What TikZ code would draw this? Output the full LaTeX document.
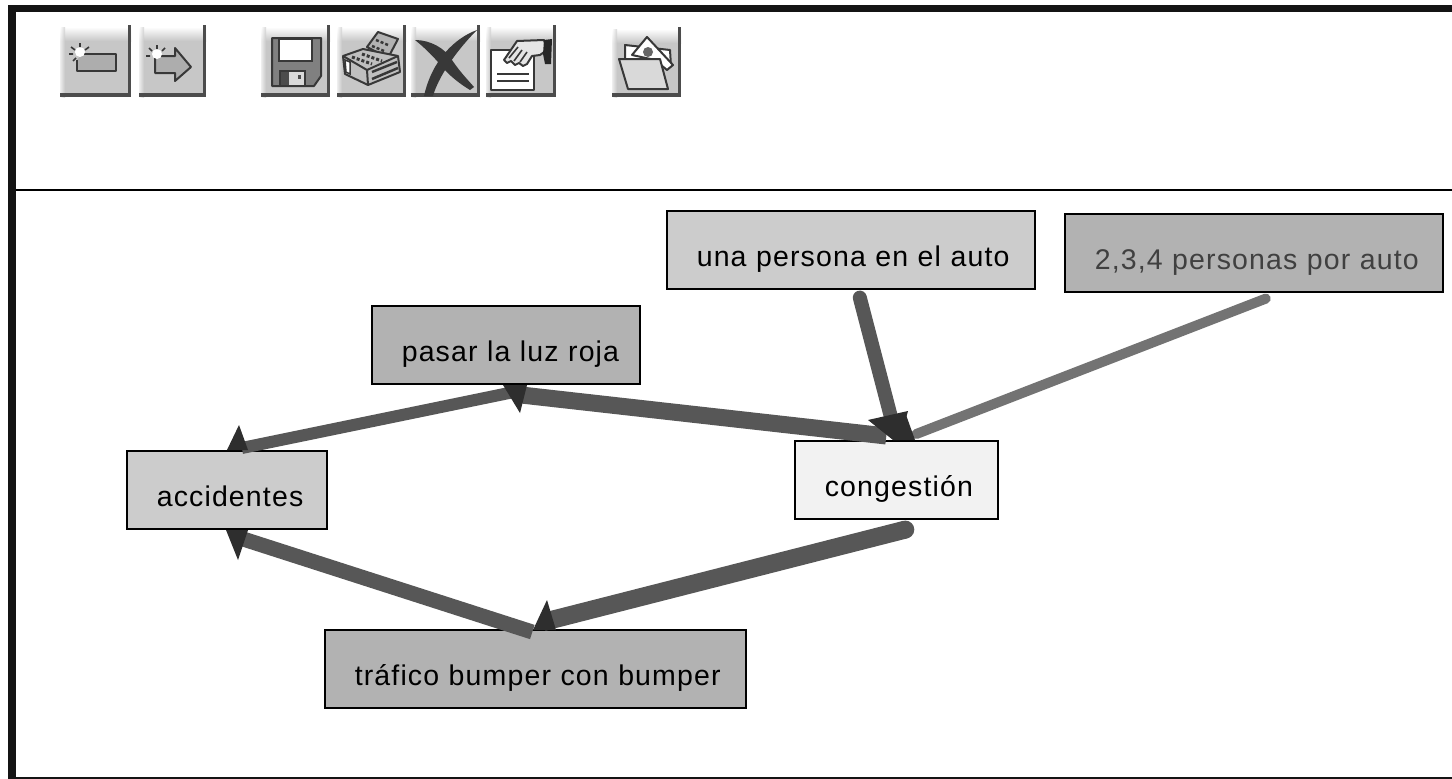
\documentclass[tikz,border=0pt]{standalone}
\usepackage{fontspec}
\setmainfont{Liberation Sans}
\newfontfamily\uifont[LetterSpace=4]{Liberation Sans}
\tikzset{
  concept/.style={draw=black,line width=1.6pt,anchor=north west,inner sep=0pt,minimum height=78pt,
    text width=#1,align=left,text height=42pt,text depth=8pt,font=\uifont\fontsize{28.5}{30}\selectfont,
    execute at begin node=\hspace*{30pt}},
  link/.style={line cap=round,line width=12pt,draw=black!66},
  head/.style={fill=black!82},
  btn/.style={fill=black!22},
  iconline/.style={draw=black!78,line width=2pt,line join=round}
}
% boton: esquina superior izquierda, esquina inferior derecha
\newcommand{\boton}[4]{%
  \fill[btn] (#1,#2) rectangle (#3,#4);
  \shade[top color=white,bottom color=black!22] (#1,#2) rectangle (#3,#2+14);
  \shade[left color=white,right color=black!22,opacity=.7] (#1,#2) rectangle (#1+5,#4);
  \fill[black!70] (#3-3,#2-2) rectangle (#3,#4);
  \fill[black!70] (#1,#4-4) rectangle (#3,#4);
}
\begin{document}
\begin{tikzpicture}[x=1pt,y=-1pt]
  \useasboundingbox (0,0) rectangle (1452,779);
  \fill[white] (0,0) rectangle (1452,779);
  %marco
  \fill[black!92] (8,5) rectangle (1452,12);
  \fill[black!92] (8,5) rectangle (16,779);
  \fill[black!92] (16,777) rectangle (1452,779);
  \draw[line width=2pt] (16,190) -- (1452,190);
  %botones
  \boton{60}{27}{131}{97}
  \boton{139}{27}{206}{97}
  \boton{261}{27}{330}{97}
  \boton{337}{27}{406}{97}
  \boton{411}{27}{480}{97}
  \boton{486}{27}{556}{97}
  \boton{612}{29}{681}{97}
  %icono nuevo concepto
  \draw[iconline,fill=black!32] (82,54) -- (116,54) -- (116,71) -- (77,71) -- (77,60);
  \fill[white] (80,52) circle (5);
  \draw[iconline,line width=1.6pt] (80,43) -- (80,47) (71,47) -- (75,50) (89,47) -- (85,50) (69,54) -- (73,54) (73,61) -- (76,58);
  %icono nueva flecha
  \draw[iconline,fill=black!32] (155,56) -- (175,56) -- (175,48) -- (191,67) -- (175,81) -- (175,73) -- (155,73) -- cycle;
  \fill[white] (157,54) circle (5);
  \draw[iconline,line width=1.6pt] (157,45) -- (157,49) (149,48) -- (152,51) (165,48) -- (162,51) (146,56) -- (150,56);
  %icono disco
  \draw[iconline,fill=black!50] (272,38) -- (321,38) -- (321,76) -- (314,86) -- (272,86) -- cycle;
  \fill[white,draw=black!78,line width=1.5pt] (279,39) rectangle (312,61);
  \fill[black!15,draw=black!78,line width=1.5pt] (280,71) rectangle (305,86);
  \fill[black!70] (281,72) rectangle (289,85);
  \fill[black!70] (298,75) rectangle (301,79);
  %icono impresora
  \draw[iconline,fill=black!30] (367,47) -- (378,32) -- (398,39) -- (388,58) -- cycle;
  \draw[iconline,line width=2.5pt,dash pattern=on 3pt off 2pt] (376,40) -- (388,45) (372,46) -- (384,51);
  \draw[iconline,fill=black!25] (343,56) -- (363,49) -- (398,56) -- (400,72) -- (368,85) -- (345,74) -- cycle;
  \draw[iconline] (343,56) -- (367,70) -- (398,56) (367,70) -- (368,85);
  \fill[white,draw=black!78,line width=1.5pt] (345,60) -- (350,62) -- (350,74) -- (346,72) -- cycle;
  \draw[iconline,line width=3pt,dash pattern=on 3pt off 2pt] (352,57) -- (372,64) (362,54) -- (382,61);
  \draw[iconline,line width=2.5pt] (372,72) -- (397,62) (372,79) -- (398,68);
  %icono borrar
  \fill[black!78] (415,40) .. controls (430,40) and (445,48) .. (452,60) .. controls (460,72) and (468,80) .. (474,87) -- (470,90) .. controls (460,84) and (450,76) .. (443,68) .. controls (435,58) and (425,48) .. (415,40) -- cycle;
  \fill[black!78] (477,30) .. controls (455,38) and (432,60) .. (424,96) -- (433,96) .. controls (438,78) and (455,52) .. (477,30) -- cycle;
  %icono mano
  \draw[iconline,fill=white] (491,50) rectangle (534,90);
  \draw[iconline,line width=2.5pt] (497,74) -- (529,74) (497,81) -- (529,81);
  \draw[iconline,fill=black!10] (504,60) -- (517,41) -- (544,40) -- (547,50) -- (540,55) -- (532,56) -- (527,64) -- (523,66) -- (519,63) -- (515,65) -- (511,61) -- (507,63) -- cycle;
  \draw[iconline,line width=1.6pt] (509,58) -- (518,47) (514,61) -- (522,50) (520,62) -- (527,52);
  \fill[black!85] (544,40) -- (552,39) -- (551,64) -- (545,64) -- (543,54) -- cycle;
  %icono carpeta
  \draw[iconline,fill=white] (625,45) -- (670,50) -- (671,66) -- (625,62) -- cycle;
  \draw[iconline,fill=white] (632,55) -- (647,37) -- (673,65) -- (667,70) -- (655,60) -- cycle;
  \fill[black!60] (648,52) circle (5);
  \draw[iconline,fill=black!15] (619,59) -- (660,59) -- (668,89) -- (628,89) -- cycle;
  %conceptos
  \node[concept=368pt,fill=black!20] (unapersona) at (666,210) {una persona en el auto};
  \node[concept=378pt,fill=black!30,text=black!75] (trespersonas) at (1064,213) {2,3,4 personas por auto};
  \node[concept=268pt,fill=black!30] (luzroja) at (371,305) {pasar la luz roja};
  \node[concept=200pt,fill=black!20] (accidentes) at (126,450) {accidentes};
  \node[concept=203pt,fill=black!5] (congestion) at (794,440) {congestión};
  \node[concept=421pt,fill=black!30] (trafico) at (324,629) {tráfico bumper con bumper};
  %enlaces
  \draw[link,line width=14pt] ([xshift=9pt,yshift=-8pt]unapersona.south) -- ([xshift=-3pt,yshift=14pt]congestion.north);
  \draw[link,line width=10pt,black!55] ([xshift=12pt,yshift=-6pt]trespersonas.south) -- ([xshift=20pt,yshift=6pt]congestion.north);
  \draw[link,line width=17pt,line cap=butt] ([xshift=-10pt,yshift=4pt]congestion.north) -- ([xshift=12pt,yshift=-10pt]luzroja.south);
  \draw[link,line cap=butt] ([xshift=10pt,yshift=-7pt]luzroja.south) -- ([xshift=15pt,yshift=2pt]accidentes.north);
  \draw[link,line width=18pt,line cap=butt] ([xshift=9pt,yshift=-10pt]congestion.south) -- ([xshift=8pt,yshift=7pt]trafico.north);
  \fill[black!66] ([xshift=9pt,yshift=-10pt]congestion.south) circle (9);
  \draw[link,line width=15pt,line cap=butt] ([xshift=-3pt,yshift=-3pt]trafico.north) -- ([xshift=12pt,yshift=-8pt]accidentes.south);
  %puntas
  \fill[head] (227,450) -- (248,450) -- (239,425) -- cycle;
  \fill[head] (226,530) -- (248,530) -- (238,560) -- cycle;
  \fill[head] (533,630) -- (556,630) -- (547,600) -- cycle;
  \fill[head] (503,385) -- (527,385) -- (520,413) -- cycle;
  \fill[head] (868,420) -- (908,411) -- (900,440) -- (893,440) -- cycle;
  \fill[head] (893,440) -- (915,440) -- (905,412) -- cycle;
\end{tikzpicture}
\end{document}
